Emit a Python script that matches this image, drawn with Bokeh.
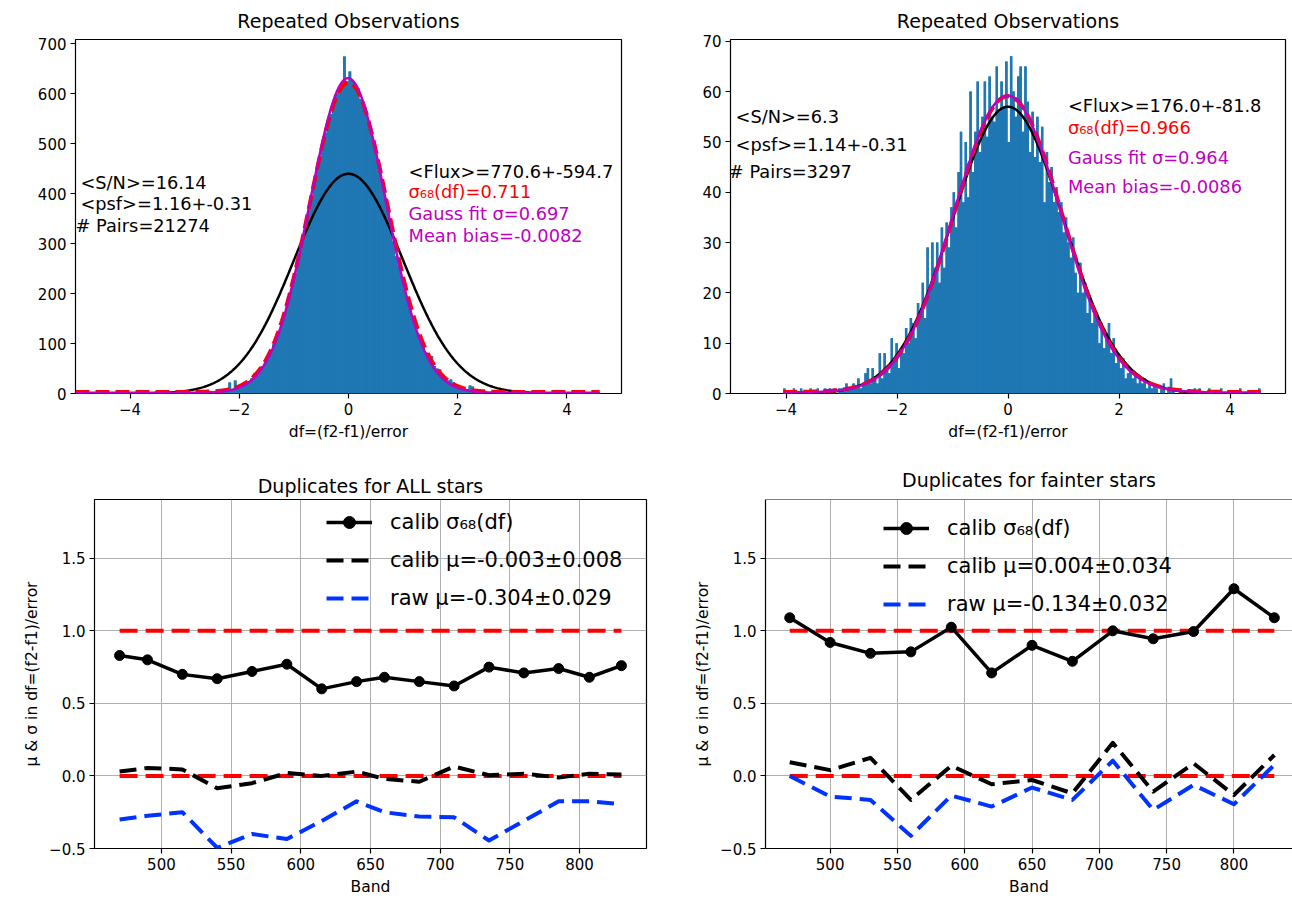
import numpy as np
from bokeh.plotting import figure
from bokeh.layouts import column, row
from bokeh.models import Range1d, FixedTicker, Span, Legend, LegendItem
from bokeh.embed import file_html
from bokeh.resources import INLINE
from bokeh.core.properties import value

FONT = "DejaVu Sans"
BAR_BLUE = "#1f77b4"
RED = "#ff0000"
MAGENTA = "#bf00bf"
RAW_BLUE = "#0033ff"

# ---------------- top-left histogram: all stars ----------------
tl_bin_start = -2.5
tl_bin_width = 0.05
tl_counts = [2, 1, 3, 2, 4, 5, 22, 8, 26, 11,
             14, 16, 19, 24, 30, 40, 36, 43, 55, 64,
             75, 86, 98, 112, 124, 140, 158, 176, 196, 216,
             240, 262, 290, 316, 340, 368, 393, 422, 450, 470,
             497, 522, 545, 560, 585, 600, 605, 618, 675, 625,
             645, 628, 615, 612, 590, 578, 565, 540, 520, 502,
             470, 446, 418, 392, 365, 335, 305, 275, 255, 235,
             210, 190, 170, 152, 135, 120, 105, 92, 82, 70,
             75, 55, 50, 48, 38, 30, 26, 28, 22, 18,
             15, 12, 10, 9, 16, 14, 5, 3, 2, 1]

# ---------------- top-right histogram: fainter stars ----------------
tr_bin_start = -4.05
tr_bin_width = 0.043
tr_counts = [1, 0, 0, 0, 1, 0, 0, 1, 0, 0, 0, 1, 0, 0, 1, 0, 0, 1, 0, 1, 0, 1, 0, 1, 1,
             1, 2, 1, 1, 2, 1, 3, 1, 2, 4,
             5, 2, 5, 3, 2, 8, 3, 8, 5, 4,
             11, 7, 10, 5, 9, 8, 13, 10, 15, 14,
             11, 18, 16, 22, 15, 29, 21, 30, 25, 30,
             22, 33, 25, 34, 29, 37, 40, 33, 44, 52,
             38, 50, 39, 60, 44, 52, 62, 48, 55, 62,
             51, 63, 55, 54, 65, 56, 62, 57, 66, 50,
             67, 60, 55, 63, 65, 52, 65, 58, 48, 56,
             47, 55, 46, 53, 38, 48, 42, 45, 38, 41,
             36, 38, 32, 35, 30, 27, 31, 24, 20, 26,
             20, 22, 16, 19, 14, 16, 15, 10, 14, 9,
             12, 14, 8, 11, 6, 8, 5, 7, 3, 4,
             5, 3, 4, 2, 3, 2, 3, 1, 2, 1,
             2, 1, 0, 1, 2, 0, 1, 3, 1, 0,
             0, 1, 0, 0, 0, 0, 0, 1, 0, 1, 0, 0, 0, 1, 0, 0, 0, 0, 1, 0,
             0, 0, 0, 0, 0, 0, 1, 0, 0, 0, 0, 0, 0, 0, 1]

# Gaussian model curves: (amplitude, mean, sigma, offset)
tl_curve_span = (-5.0, 4.6)
tl_unit_gauss = (440.0, 0.0, 1.0, 0.0)
tl_sigma68_gauss = (620.0, 0.0, 0.711, 3.0)
tl_fit_gauss = (630.0, -0.0082, 0.697, 1.5)
tr_curve_span = (-4.05, 4.55)
tr_unit_gauss = (57.0, 0.0, 1.0, 0.0)
tr_sigma68_gauss = (58.8, 0.0, 0.966, 0.3)
tr_fit_gauss = (59.0, -0.0086, 0.964, 0.2)

tl_left_notes = ["<S/N>=16.14", "<psf>=1.16+-0.31", "# Pairs=21274"]
tl_right_notes = ["<Flux>=770.6+-594.7", "σ₆₈(df)=0.711", "Gauss fit σ=0.697", "Mean bias=-0.0082"]
tr_left_notes = ["<S/N>=6.3", "<psf>=1.14+-0.31", "# Pairs=3297"]
tr_right_notes = ["<Flux>=176.0+-81.8", "σ₆₈(df)=0.966", "Gauss fit σ=0.964", "Mean bias=-0.0086"]

# ---------------- bottom panels ----------------
all_bands = [470, 490, 515, 540, 565, 590, 615, 640, 660, 685, 710, 735, 760, 785, 807, 830]
all_sigma = [0.83, 0.80, 0.70, 0.67, 0.72, 0.77, 0.60, 0.65, 0.68, 0.65, 0.62, 0.75, 0.71, 0.74, 0.68, 0.76]
all_calib_mu = [0.03, 0.055, 0.045, -0.085, -0.05, 0.02, 0.0, 0.03, -0.02, -0.04, 0.065, 0.005, 0.015, -0.01, 0.015, 0.01]
all_raw_mu = [-0.30, -0.275, -0.25, -0.495, -0.40, -0.435, -0.31, -0.175, -0.25, -0.28, -0.285, -0.445, -0.31, -0.175, -0.175, -0.195]
all_labels = ["calib σ₆₈(df)", "calib μ=-0.003±0.008", "raw μ=-0.304±0.029"]

faint_bands = [470, 500, 530, 560, 590, 620, 650, 680, 710, 740, 770, 800, 830]
faint_sigma = [1.09, 0.92, 0.845, 0.855, 1.025, 0.71, 0.90, 0.79, 1.0, 0.945, 0.995, 1.29, 1.09]
faint_calib_mu = [0.094, 0.04, 0.125, -0.165, 0.07, -0.057, -0.028, -0.12, 0.228, -0.108, 0.087, -0.131, 0.144]
faint_raw_mu = [0.0, -0.142, -0.165, -0.413, -0.135, -0.211, -0.08, -0.165, 0.105, -0.234, -0.062, -0.195, 0.076]
faint_labels = ["calib σ₆₈(df)", "calib μ=0.004±0.034", "raw μ=-0.134±0.032"]

ref_levels = [1.0, 0.0]

hist_x_ticks = [-4, -2, 0, 2, 4]
tl_y_ticks = [0, 100, 200, 300, 400, 500, 600, 700]
tr_y_ticks = [0, 10, 20, 30, 40, 50, 60, 70]
band_ticks = [500, 550, 600, 650, 700, 750, 800]
mu_ticks = [-0.5, 0.0, 0.5, 1.0, 1.5]
mu_top = 1.905


def tick_text(v, decimals=0):
    s = f"{abs(v):.{decimals}f}"
    return ("−" + s) if v < 0 else s


def gauss(x, params):
    amp, mu, sig, off = params
    return off + amp * np.exp(-(x - mu) ** 2 / (2 * sig ** 2))


def style(p, xt, yt, ydec=0, outline=True):
    p.xaxis.ticker = FixedTicker(ticks=xt)
    p.yaxis.ticker = FixedTicker(ticks=yt)
    p.xaxis.major_label_overrides = {float(t): tick_text(t) for t in xt}
    p.yaxis.major_label_overrides = {float(t): tick_text(t, ydec) for t in yt}
    for ax in list(p.xaxis) + list(p.yaxis):
        ax.axis_line_color = None if outline else "black"
        ax.axis_line_width = 1.2
        ax.major_tick_line_color = "black"
        ax.major_tick_line_width = 1.2
        ax.major_tick_out = 5
        ax.major_tick_in = 0
        ax.minor_tick_line_color = None
        ax.major_label_text_font = FONT
        ax.major_label_text_font_size = "15px"
        ax.major_label_text_color = "black"
        ax.major_label_standoff = 4
        ax.axis_label_text_font = FONT
        ax.axis_label_text_font_size = "15.5px"
        ax.axis_label_text_font_style = "normal"
        ax.axis_label_text_color = "black"
        ax.axis_label_standoff = 5
    if outline:
        p.outline_line_color = "black"
        p.outline_line_width = 1.2
    else:
        p.outline_line_color = None
    p.title.text_font = FONT
    p.title.text_font_size = "19px"
    p.title.text_font_style = "normal"
    p.title.text_color = "black"
    p.title.align = "center"
    p.background_fill_color = "white"
    p.border_fill_color = "white"


def hist_panel(width, height, borders, yr, counts, start, bw, span, g_unit, g68, gfit,
               left_notes, left_pos, right_notes, right_pos, yt):
    p = figure(width=width, height=height, x_range=Range1d(-5, 5), y_range=Range1d(*yr),
               output_backend="svg", toolbar_location=None, title="Repeated Observations",
               min_border_left=borders[0], min_border_right=borders[1],
               min_border_top=borders[2], min_border_bottom=borders[3])
    style(p, hist_x_ticks, yt)
    p.title.standoff = 15
    p.grid.grid_line_color = None
    p.xaxis.axis_label = "df=(f2-f1)/error"
    edges = start + bw * np.arange(len(counts) + 1)
    p.varea_step(x=edges, y1=np.zeros(len(edges)), y2=list(counts) + [0], step_mode="after",
                 fill_color=BAR_BLUE)
    p.quad(left=edges[:-1], right=edges[1:], bottom=0, top=counts,
           fill_color=BAR_BLUE, line_color=None)
    xs = np.linspace(span[0], span[1], 600)
    p.line(xs, gauss(xs, g_unit), line_color="black", line_width=2.5)
    p.line(xs, gauss(xs, g68), line_color=RED, line_width=4, line_dash="14 6")
    p.line(xs, gauss(xs, gfit), line_color=MAGENTA, line_width=2.5)
    p.text(x=left_pos[0], y=left_pos[1], text=left_notes, text_font=value(FONT),
           text_font_size="17.8px", text_color="black", text_baseline="middle", text_align="left")
    p.text(x=right_pos[0], y=right_pos[1], text=right_notes, text_font=value(FONT),
           text_font_size="17.8px", text_color=["black", RED, MAGENTA, MAGENTA],
           text_baseline="middle", text_align="left")
    return p


p1 = hist_panel(680, 456, (75, 59, 38, 63), (0, 709), tl_counts, tl_bin_start, tl_bin_width,
                tl_curve_span, tl_unit_gauss, tl_sigma68_gauss, tl_fit_gauss,
                tl_left_notes, ([-4.91, -4.91, -5.0], [423, 381, 337]),
                tl_right_notes, ([1.10] * 4, [445, 405, 361, 317]), tl_y_ticks)
p2 = hist_panel(612, 456, (50, 7, 38, 56), (0, 70.35), tr_counts, tr_bin_start, tr_bin_width,
                tr_curve_span, tr_unit_gauss, tr_sigma68_gauss, tr_fit_gauss,
                tr_left_notes, ([-4.91, -4.91, -5.03], [55.1, 49.4, 44.2]),
                tr_right_notes, ([1.08] * 4, [57.3, 52.8, 46.9, 41.2]), tr_y_ticks)


def band_panel(width, height, borders, xr, title, bands, sigma, cmu, rmu, labels, loc, outline, tstand):
    p = figure(width=width, height=height, x_range=Range1d(*xr), y_range=Range1d(-0.5, mu_top),
               output_backend="svg", toolbar_location=None, title=title,
               min_border_left=borders[0], min_border_right=borders[1],
               min_border_top=borders[2], min_border_bottom=borders[3])
    style(p, band_ticks, mu_ticks, ydec=1, outline=outline)
    p.title.standoff = tstand
    p.xaxis.axis_label = "Band"
    p.yaxis.axis_label = "μ & σ in df=(f2-f1)/error"
    p.grid.grid_line_color = "#b0b0b0"
    p.grid.grid_line_width = 1
    for lev in ref_levels:
        p.line([bands[0], bands[-1]], [lev, lev], line_color=RED, line_width=4, line_dash="18 8")
    r_sig = p.line(bands, sigma, line_color="black", line_width=3.5, line_join="round")
    r_pts = p.scatter(bands, sigma, size=10, fill_color="black", line_color="black")
    r_cmu = p.line(bands, cmu, line_color="black", line_width=4, line_dash="17 8", line_join="round")
    r_rmu = p.line(bands, rmu, line_color=RAW_BLUE, line_width=4, line_dash="17 8", line_join="round")
    leg = Legend(items=[LegendItem(label=labels[0], renderers=[r_sig, r_pts]),
                        LegendItem(label=labels[1], renderers=[r_cmu]),
                        LegendItem(label=labels[2], renderers=[r_rmu])],
                 location=loc, label_text_font=FONT, label_text_font_size="21px",
                 label_text_color="black",
                 glyph_width=46, glyph_height=30, label_height=30, label_standoff=18,
                 spacing=8, padding=0, margin=0, border_line_color=None,
                 background_fill_alpha=0)
    p.add_layout(leg)
    if not outline:
        p.add_layout(Span(location=mu_top, dimension="width", line_color="black", line_width=1.2))
    return p


p3 = band_panel(680, 453, (94, 34, 43, 50), (452, 848), "Duplicates for ALL stars",
                all_bands, all_sigma, all_calib_mu, all_raw_mu, all_labels, (232, 235), True, 5)
p4 = band_panel(612, 453, (85, 0, 40, 61), (452, 843.5), "Duplicates for fainter stars",
                faint_bands, faint_sigma, faint_calib_mu, faint_raw_mu, faint_labels, (118, 229), False, 18)

layout = column(row(p1, p2), row(p3, p4))
open("out.html", "w").write(file_html(layout, INLINE))
